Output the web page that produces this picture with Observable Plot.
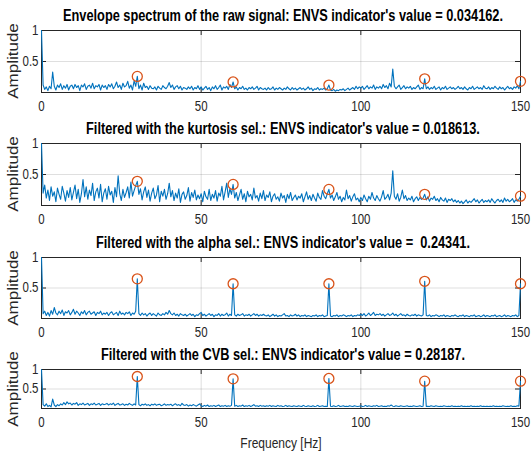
<!DOCTYPE html>
<html><head><meta charset="utf-8">
<script src="https://cdn.jsdelivr.net/npm/d3@7"></script>
<script src="https://cdn.jsdelivr.net/npm/@observablehq/plot@0.6"></script>
<style>
body{margin:0;background:#fff;}
#c{position:relative;width:532px;height:456px;overflow:hidden;font-family:"Liberation Sans",Arial,sans-serif;color:#262626;background:#fff;}
#c svg{position:absolute;left:0;}
.t{position:absolute;white-space:pre;font-weight:bold;font-size:16px;line-height:16px;color:#000;transform-origin:center;}
.yl{position:absolute;white-space:pre;font-size:17px;line-height:17px;color:#262626;}
.xl{position:absolute;white-space:pre;font-size:15px;line-height:15px;color:#262626;transform-origin:center;}
</style></head>
<body><div id="c"></div>
<script>
const freqStep = 0.5;
const xTicks = [0, 50, 100, 150];
const yTicks = [0.5, 1];
const peakFreq = [30, 60, 90, 120, 150];

const rawAmp = [
1.0,0.12,0.05,0.09,0.03,0.1,0.06,0.33,0.1,0.04,0.12,0.08,0.14,0.05,0.11,0.07,0.13,0.04,0.1,0.12,
0.06,0.13,0.08,0.11,0.03,0.12,0.09,0.14,0.05,0.1,0.12,0.07,0.15,0.06,0.11,0.09,0.13,0.04,0.12,0.08,
0.11,0.05,0.13,0.09,0.14,0.06,0.1,0.17,0.08,0.12,0.05,0.15,0.09,0.11,0.18,0.07,0.12,0.04,0.19,0.1,
0.26,0.06,0.12,0.04,0.15,0.08,0.1,0.05,0.11,0.07,0.06,0.09,0.04,0.1,0.07,0.05,0.11,0.08,0.06,0.1,
0.16,0.08,0.12,0.05,0.09,0.11,0.06,0.1,0.04,0.08,0.07,0.05,0.09,0.06,0.1,0.04,0.08,0.06,0.11,0.05,
0.09,0.04,0.07,0.1,0.05,0.08,0.03,0.09,0.06,0.11,0.05,0.08,0.12,0.04,0.09,0.07,0.1,0.05,0.13,0.08,
0.17,0.06,0.09,0.04,0.08,0.06,0.1,0.05,0.07,0.04,0.08,0.06,0.09,0.05,0.07,0.1,0.04,0.08,0.06,0.05,
0.07,0.04,0.08,0.05,0.06,0.09,0.04,0.07,0.05,0.08,0.06,0.04,0.07,0.05,0.09,0.06,0.04,0.08,0.05,0.07,
0.04,0.06,0.08,0.05,0.07,0.04,0.06,0.09,0.05,0.07,0.03,0.06,0.05,0.08,0.04,0.06,0.05,0.07,0.04,0.06,
0.12,0.04,0.03,0.05,0.02,0.04,0.03,0.05,0.04,0.06,0.03,0.05,0.07,0.04,0.06,0.08,0.05,0.1,0.06,0.09,
0.07,0.1,0.05,0.08,0.11,0.06,0.09,0.07,0.12,0.05,0.09,0.07,0.1,0.06,0.13,0.08,0.11,0.06,0.15,0.09,
0.38,0.1,0.06,0.09,0.12,0.05,0.08,0.11,0.06,0.09,0.07,0.1,0.05,0.08,0.06,0.09,0.12,0.05,0.08,0.06,
0.22,0.06,0.09,0.05,0.08,0.06,0.1,0.05,0.07,0.09,0.04,0.08,0.06,0.1,0.05,0.07,0.09,0.06,0.08,0.05,
0.07,0.1,0.06,0.08,0.05,0.09,0.06,0.04,0.08,0.06,0.1,0.05,0.07,0.09,0.06,0.08,0.05,0.11,0.07,0.06,
0.09,0.05,0.08,0.06,0.1,0.07,0.05,0.09,0.06,0.08,0.04,0.07,0.1,0.06,0.08,0.05,0.09,0.07,0.11,0.06,
0.18];
const rawPeaks = [0.26, 0.17, 0.12, 0.22, 0.18];

const kurtAmp = [
1.0,0.2,0.33,0.12,0.25,0.08,0.3,0.15,0.22,0.06,0.28,0.18,0.1,0.31,0.2,0.07,0.24,0.13,0.29,0.09,
0.21,0.33,0.11,0.26,0.05,0.19,0.42,0.14,0.3,0.1,0.25,0.16,0.36,0.08,0.22,0.28,0.12,0.34,0.06,0.2,
0.27,0.1,0.31,0.17,0.23,0.05,0.29,0.14,0.48,0.19,0.08,0.26,0.13,0.21,0.3,0.12,0.38,0.15,0.24,0.32,
0.39,0.18,0.27,0.09,0.22,0.3,0.13,0.25,0.07,0.2,0.28,0.11,0.17,0.32,0.06,0.23,0.15,0.26,0.1,0.19,
0.36,0.14,0.24,0.08,0.2,0.12,0.27,0.05,0.18,0.22,0.1,0.16,0.29,0.07,0.21,0.13,0.25,0.09,0.17,0.11,
0.19,0.06,0.23,0.14,0.1,0.26,0.08,0.18,0.12,0.24,0.07,0.2,0.15,0.31,0.09,0.22,0.36,0.13,0.27,0.18,
0.34,0.12,0.21,0.08,0.17,0.26,0.1,0.19,0.06,0.23,0.14,0.18,0.09,0.28,0.12,0.16,0.07,0.2,0.11,0.24,
0.08,0.17,0.13,0.22,0.06,0.15,0.19,0.1,0.14,0.07,0.2,0.12,0.16,0.05,0.18,0.11,0.21,0.08,0.13,0.17,
0.09,0.15,0.12,0.19,0.06,0.14,0.22,0.1,0.16,0.08,0.18,0.12,0.07,0.2,0.13,0.1,0.24,0.15,0.11,0.19,
0.26,0.12,0.17,0.08,0.14,0.21,0.1,0.15,0.06,0.13,0.09,0.25,0.11,0.16,0.07,0.14,0.19,0.09,0.12,0.06,
0.13,0.08,0.17,0.11,0.06,0.15,0.1,0.21,0.12,0.08,0.16,0.11,0.07,0.14,0.24,0.1,0.13,0.18,0.09,0.2,
0.56,0.15,0.1,0.19,0.07,0.13,0.25,0.11,0.16,0.08,0.12,0.09,0.15,0.06,0.11,0.14,0.08,0.13,0.1,0.12,
0.18,0.09,0.14,0.07,0.12,0.1,0.15,0.08,0.11,0.06,0.13,0.09,0.07,0.12,0.05,0.1,0.08,0.11,0.06,0.09,
0.05,0.08,0.04,0.07,0.03,0.06,0.09,0.04,0.07,0.05,0.08,0.11,0.06,0.09,0.04,0.07,0.1,0.05,0.08,0.06,
0.09,0.05,0.11,0.07,0.04,0.08,0.1,0.06,0.09,0.05,0.12,0.07,0.1,0.06,0.08,0.11,0.05,0.09,0.07,0.1,
0.15];
const kurtPeaks = [0.39, 0.34, 0.26, 0.18, 0.15];

const alphaAmp = [
1.0,0.08,0.12,0.05,0.1,0.04,0.13,0.07,0.18,0.09,0.06,0.12,0.08,0.14,0.05,0.11,0.09,0.13,0.06,0.1,
0.15,0.07,0.12,0.09,0.05,0.11,0.08,0.13,0.06,0.1,0.12,0.07,0.09,0.11,0.05,0.1,0.08,0.12,0.06,0.09,
0.07,0.1,0.05,0.09,0.11,0.06,0.08,0.1,0.05,0.12,0.07,0.09,0.06,0.1,0.08,0.11,0.05,0.09,0.07,0.12,
0.65,0.08,0.05,0.09,0.06,0.08,0.04,0.07,0.09,0.05,0.08,0.06,0.04,0.09,0.06,0.05,0.08,0.06,0.1,0.07,
0.13,0.08,0.06,0.09,0.05,0.07,0.04,0.08,0.06,0.05,0.07,0.04,0.06,0.08,0.05,0.07,0.03,0.06,0.05,0.08,
0.1,0.05,0.07,0.04,0.06,0.08,0.05,0.07,0.03,0.06,0.05,0.08,0.04,0.07,0.05,0.06,0.09,0.04,0.07,0.05,
0.57,0.06,0.04,0.07,0.05,0.06,0.08,0.04,0.06,0.05,0.07,0.04,0.06,0.08,0.05,0.07,0.04,0.06,0.05,0.07,
0.05,0.04,0.06,0.03,0.05,0.07,0.04,0.06,0.03,0.05,0.04,0.06,0.08,0.04,0.05,0.03,0.06,0.04,0.05,0.07,
0.04,0.06,0.03,0.05,0.04,0.06,0.03,0.05,0.04,0.03,0.05,0.04,0.06,0.03,0.05,0.04,0.06,0.03,0.04,0.05,
0.57,0.04,0.03,0.05,0.04,0.06,0.03,0.05,0.04,0.06,0.05,0.03,0.05,0.04,0.06,0.03,0.05,0.04,0.06,0.05,
0.07,0.05,0.08,0.04,0.06,0.09,0.05,0.07,0.1,0.05,0.07,0.06,0.08,0.05,0.07,0.04,0.06,0.08,0.05,0.06,
0.09,0.05,0.07,0.04,0.06,0.08,0.05,0.06,0.04,0.07,0.05,0.04,0.06,0.05,0.07,0.04,0.06,0.05,0.04,0.06,
0.61,0.05,0.04,0.06,0.03,0.05,0.04,0.06,0.05,0.03,0.05,0.04,0.06,0.03,0.05,0.04,0.03,0.05,0.04,0.06,
0.04,0.03,0.05,0.04,0.06,0.03,0.05,0.04,0.03,0.05,0.04,0.06,0.03,0.04,0.05,0.03,0.04,0.06,0.03,0.05,
0.04,0.03,0.05,0.04,0.06,0.03,0.04,0.05,0.03,0.04,0.06,0.03,0.05,0.04,0.03,0.05,0.04,0.06,0.03,0.05,
0.57];
const alphaPeaks = [0.65, 0.57, 0.57, 0.61, 0.57];

const cvbAmp = [
1.0,0.1,0.06,0.12,0.05,0.08,0.04,0.24,0.09,0.05,0.1,0.07,0.12,0.09,0.15,0.1,0.17,0.12,0.14,0.09,
0.13,0.11,0.15,0.08,0.12,0.1,0.14,0.09,0.11,0.13,0.08,0.12,0.1,0.14,0.09,0.11,0.13,0.08,0.12,0.1,
0.11,0.13,0.09,0.12,0.1,0.14,0.08,0.11,0.13,0.09,0.1,0.12,0.08,0.11,0.09,0.13,0.1,0.08,0.12,0.09,
0.82,0.1,0.07,0.11,0.09,0.12,0.08,0.1,0.07,0.11,0.09,0.12,0.08,0.1,0.11,0.07,0.09,0.12,0.08,0.1,
0.09,0.11,0.07,0.1,0.12,0.08,0.1,0.07,0.13,0.09,0.08,0.1,0.06,0.09,0.07,0.1,0.08,0.06,0.09,0.12,
0.07,0.05,0.08,0.06,0.09,0.05,0.07,0.06,0.08,0.05,0.07,0.09,0.05,0.07,0.06,0.08,0.05,0.07,0.06,0.08,
0.76,0.06,0.08,0.05,0.07,0.06,0.09,0.05,0.07,0.06,0.08,0.05,0.07,0.1,0.06,0.07,0.05,0.08,0.06,0.07,
0.05,0.07,0.06,0.08,0.05,0.07,0.06,0.05,0.08,0.06,0.07,0.05,0.06,0.08,0.05,0.07,0.06,0.05,0.07,0.06,
0.05,0.07,0.06,0.05,0.08,0.06,0.05,0.07,0.06,0.05,0.07,0.05,0.06,0.08,0.05,0.06,0.07,0.05,0.06,0.05,
0.77,0.06,0.05,0.07,0.05,0.06,0.08,0.05,0.06,0.07,0.05,0.06,0.05,0.07,0.06,0.05,0.07,0.06,0.05,0.06,
0.07,0.05,0.06,0.08,0.05,0.07,0.06,0.05,0.07,0.06,0.08,0.05,0.06,0.07,0.05,0.06,0.05,0.07,0.06,0.09,
0.06,0.05,0.07,0.06,0.05,0.07,0.06,0.05,0.06,0.07,0.05,0.06,0.05,0.07,0.06,0.05,0.06,0.07,0.05,0.06,
0.7,0.05,0.06,0.05,0.07,0.06,0.05,0.07,0.06,0.05,0.06,0.05,0.07,0.06,0.05,0.06,0.05,0.07,0.05,0.06,
0.05,0.06,0.05,0.07,0.05,0.06,0.05,0.06,0.05,0.07,0.05,0.06,0.05,0.06,0.05,0.07,0.05,0.06,0.05,0.06,
0.05,0.06,0.05,0.07,0.05,0.06,0.05,0.06,0.05,0.07,0.06,0.05,0.06,0.05,0.07,0.05,0.06,0.05,0.07,0.06,
0.7];
const cvbPeaks = [0.82, 0.76, 0.77, 0.7, 0.7];

const titles = [
  "Envelope spectrum of the raw signal: ENVS indicator's value = 0.034162.",
  "Filtered with the kurtosis sel.: ENVS indicator's value = 0.018613.",
  "Filtered with the alpha sel.: ENVS indicator's value =  0.24341.",
  "Filtered with the CVB sel.: ENVS indicator's value = 0.28187."
];
const yLabel = "Amplitude";
const xLabel = "Frequency [Hz]";

const panels = [
  {amp: rawAmp, peaks: rawPeaks, title: titles[0], boxTop: 30, boxH: 62},
  {amp: kurtAmp, peaks: kurtPeaks, title: titles[1], boxTop: 143, boxH: 62},
  {amp: alphaAmp, peaks: alphaPeaks, title: titles[2], boxTop: 257, boxH: 61},
  {amp: cvbAmp, peaks: cvbPeaks, title: titles[3], boxTop: 369, boxH: 39}
];

const root = document.getElementById("c");
const W = 532, mL = 41, mR = 12, mT = 30, mB = 24;
const innerW = W - mL - mR;
const dark = "#262626";

function makeDiv(cls, text) {
  const d = document.createElement("div");
  d.className = cls; d.textContent = text; root.appendChild(d); return d;
}
const titleDivs = panels.map(p => makeDiv("t", p.title));
const tScale = 440 / titleDivs[0].getBoundingClientRect().width;

panels.forEach((p, k) => {
  const rows = p.amp.map((a, i) => ({f: i * freqStep, a}));
  const pk = peakFreq.map((f, i) => ({f, a: p.peaks[i]}));
  const yl = makeDiv("yl", yLabel);
  yl.style.left = "13px";
  yl.style.top = (p.boxTop + p.boxH / 2) + "px";
  yl.style.transform = "translate(-50%,-50%) rotate(-90deg) scaleY(0.85)";
  const svg = Plot.plot({
    width: W, height: mT + p.boxH + mB,
    marginLeft: mL, marginRight: mR, marginTop: mT, marginBottom: mB,
    style: {fontFamily: '"Liberation Sans", Arial, sans-serif', fontSize: "14px", color: dark, background: "transparent", overflow: "visible"},
    x: {domain: [0, 150]},
    y: {domain: [0, 1]},
    marks: [
      Plot.gridX(xTicks, {stroke: dark, strokeOpacity: 0.15}),
      Plot.gridY(yTicks, {stroke: dark, strokeOpacity: 0.15}),
      Plot.axisX(xTicks, {tickSize: 0, tickPadding: 9, label: null, fill: dark, tickFormat: d => String(d)}),
      Plot.axisY(yTicks, {tickSize: 0, tickPadding: 3, label: null, fill: dark, tickFormat: d => String(d)}),
      Plot.ruleX(xTicks, {insetTop: p.boxH - 5, stroke: dark}),
      Plot.ruleX(xTicks, {insetBottom: p.boxH - 5, stroke: dark}),
      Plot.ruleY(yTicks, {insetRight: innerW - 5, stroke: dark}),
      Plot.ruleY(yTicks, {insetLeft: innerW - 5, stroke: dark}),
      Plot.frame({stroke: dark}),
      Plot.line(rows, {x: "f", y: "a", stroke: "#0072BD", strokeWidth: 1.1}),
      Plot.dot(pk, {x: "f", y: "a", r: 5, stroke: "#D95319", strokeWidth: 1.3, fill: "none"})
    ]
  });
  svg.style.top = (p.boxTop - mT) + "px";
  root.appendChild(svg);
  svg.querySelectorAll("text").forEach(t => {
    const tr = t.getAttribute("transform");
    if (tr && tr.includes("translate")) t.setAttribute("transform", tr + " scale(0.82,1)");
  });
  const td = titleDivs[k];
  td.style.left = "283px";
  td.style.top = (p.boxTop - 14.5 - 8) + "px";
  td.style.transform = `translateX(-50%) scaleX(${tScale})`;
});
const xl = makeDiv("xl", xLabel);
xl.style.left = "280.5px";
xl.style.top = (442 - 7.5) + "px";
xl.style.transform = "translateX(-50%) scaleX(0.8)";
</script>
</body></html>
